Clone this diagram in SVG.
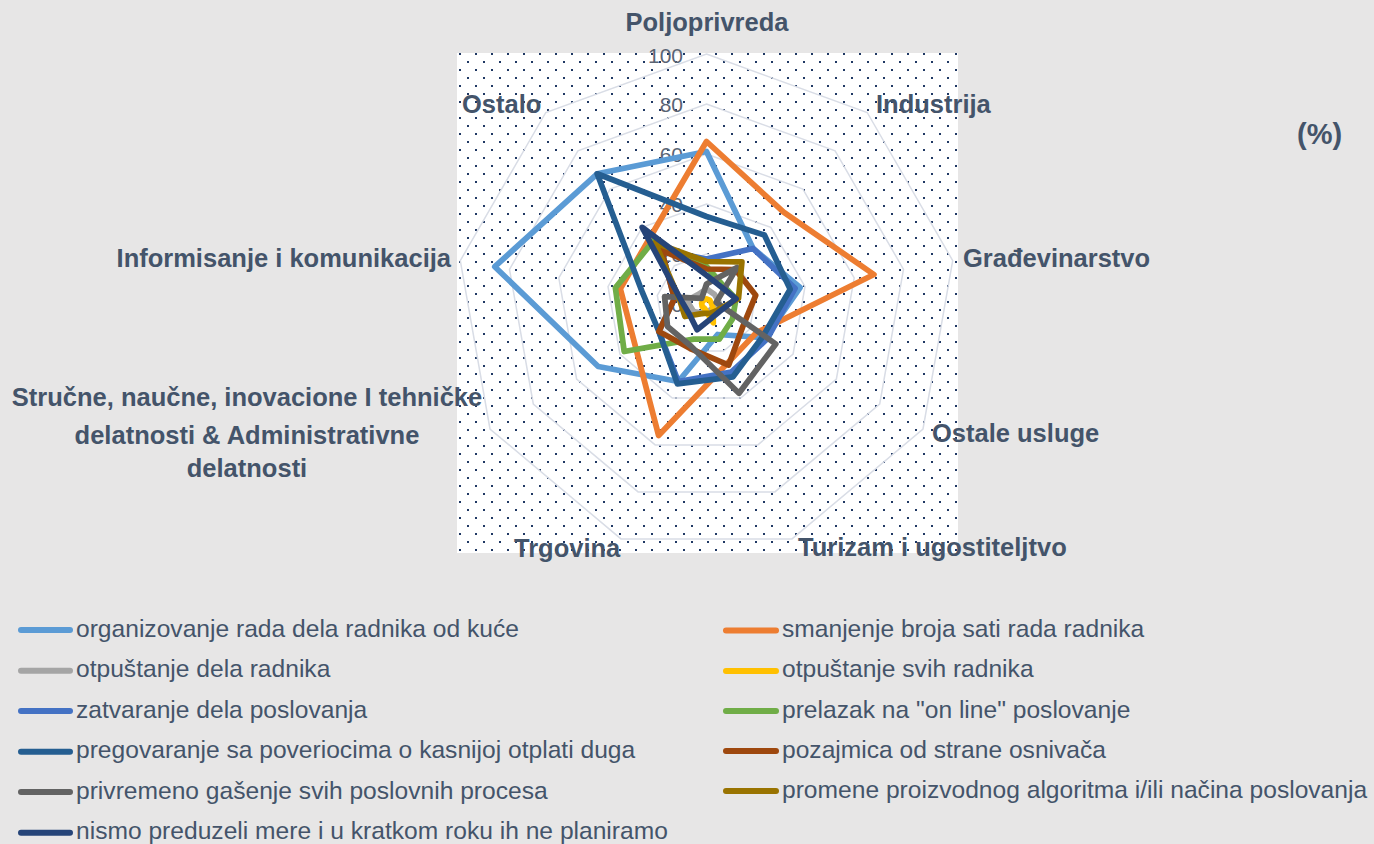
<svg xmlns="http://www.w3.org/2000/svg" width="1374" height="844" viewBox="0 0 1374 844">
<defs>
<pattern id="dots" patternUnits="userSpaceOnUse" x="0" y="0" width="16" height="16">
<rect x="11" y="5" width="2" height="2" fill="#1f3864"/>
<rect x="3" y="13" width="2" height="2" fill="#1f3864"/>
</pattern>
<style>
.grid{fill:none;stroke:#d9dde6;stroke-width:1.5}
.val{font-family:"Liberation Sans",Arial,sans-serif;font-size:21px;fill:#5a6474;text-anchor:end}
.cat{font-family:"Liberation Sans",Arial,sans-serif;font-size:25.5px;font-weight:bold;fill:#44546a}
.ser{fill:none;stroke-width:5.75;stroke-linejoin:round}
.leg{font-family:"Liberation Sans",Arial,sans-serif;font-size:24.6px;fill:#44546a}
.lk{stroke-width:6;stroke-linecap:round}
</style>
</defs>
<rect x="0" y="0" width="1374" height="844" fill="#e7e6e6"/>
<g id="plot-area">
<rect x="457" y="53" width="501" height="500" fill="#ffffff"/>
<rect x="457" y="53" width="501" height="500" fill="url(#dots)"/>
</g>
<g id="gridlines">
<polygon class="grid" points="706.5,54 867.2,112.5 952.7,260.6 923,429 792,538.9 621,538.9 490,429 460.3,260.6 545.8,112.5"/>
<polygon class="grid" points="706.5,104 835.1,150.8 903.5,269.3 879.7,404 774.9,491.9 638.1,491.9 533.3,404 509.5,269.3 577.9,150.8"/>
<polygon class="grid" points="706.5,154 802.9,189.1 854.2,278 836.4,379 757.8,444.9 655.2,444.9 576.6,379 558.8,278 610.1,189.1"/>
<polygon class="grid" points="706.5,204 770.8,227.4 805,286.6 793.1,354 740.7,398 672.3,398 619.9,354 608,286.6 642.2,227.4"/>
<polygon class="grid" points="706.5,254 738.6,265.7 755.7,295.3 749.8,329 723.6,351 689.4,351 663.2,329 657.3,295.3 674.4,265.7"/>
</g>
<g id="value-axis">
<text class="val" x="683" y="62.5">100</text>
<text class="val" x="683" y="112">80</text>
<text class="val" x="683" y="162">60</text>
<text class="val" x="683" y="212">40</text>
<text class="val" x="683" y="262">20</text>
<text class="val" x="683" y="312">0</text>
</g>
<g id="series">
<polygon id="s-organizovanje" class="ser" stroke="#5b9bd5" points="706.5,151.5 753.1,248.5 800.1,287.5 765,337.8 717.6,334.5 678.3,381.5 598.2,366.5 494.8,266.7 597.2,173.8"/>
<polygon id="s-smanjenje" class="ser" stroke="#ed7d31" points="706.5,141.5 783.6,212.1 873.9,274.5 756.3,332.8 727.9,362.7 658.6,435.5 635.1,345.3 620.3,288.8 650.3,237"/>
<polygon id="s-otpustanje-dela" class="ser" stroke="#a5a5a5" points="706.5,289 714.5,294.4 718.8,301.8 713,307.8 709.1,311 703.1,313.4 693.5,311.5 686.8,300.5 698.5,294.4"/>
<polygon id="s-otpustanje-svih" class="ser" stroke="#ffc000" points="706.5,299 709.7,300.2 711.4,303.1 713,307.8 713.3,322.8 704.8,308.7 702.2,306.5 701.6,303.1 703.3,300.2"/>
<polygon id="s-zatvaranje" class="ser" stroke="#4472c4" points="706.5,259 753.1,248.5 795.1,288.4 767.1,339 731.3,372.1 678.3,381.5 658.9,331.5 674.5,298.4 661.5,250.4"/>
<polygon id="s-prelazak" class="ser" stroke="#70ad47" points="706.5,266.5 722.6,284.9 736,298.8 732.5,319 719.3,339.2 693.7,339.2 624.2,351.5 615.4,287.9 653.5,240.8"/>
<polygon id="s-pregovaranje" class="ser" stroke="#255e91" points="706.5,216.5 764.4,235.1 790.2,289.2 762.8,336.5 733,376.8 677.4,383.9 658.9,331.5 642.5,292.7 597.2,173.8"/>
<polygon id="s-pozajmica" class="ser" stroke="#9e480e" points="706.5,269 735.4,269.5 755.7,295.3 743.3,325.3 728.7,365.1 690.3,348.6 658.9,331.5 674.5,298.4 661.5,250.4"/>
<polygon id="s-privremeno" class="ser" stroke="#636363" points="706.5,284 737,267.6 716.3,302.3 775.8,344 739,393.3 691.1,346.3 667.5,326.5 664.6,296.6 701.7,298.3"/>
<polygon id="s-promene" class="ser" stroke="#997300" points="706.5,261.5 741.9,261.9 738.5,298.4 717.3,310.3 709.9,313.4 703.1,313.4 684.9,316.5 679.4,299.2 655.1,242.7"/>
<polygon id="s-nismo" class="ser" stroke="#264478" points="706.5,275.3 721,286.8 736,298.8 719.5,311.5 711.6,318.1 697.1,329.8 689.2,314 680.6,299.4 642.2,227.4"/>
</g>
<g id="category-labels">
<text class="cat" x="707" y="31" text-anchor="middle">Poljoprivreda</text>
<text class="cat" x="876" y="113">Industrija</text>
<text class="cat" x="963" y="267">Građevinarstvo</text>
<text class="cat" x="932" y="442">Ostale usluge</text>
<text class="cat" x="798" y="556">Turizam i ugostiteljtvo</text>
<text class="cat" x="514" y="557">Trgovina</text>
<text class="cat" x="247" y="406" text-anchor="middle">Stručne, naučne, inovacione I tehničke</text>
<text class="cat" x="247" y="444" text-anchor="middle">delatnosti &amp; Administrativne</text>
<text class="cat" x="247" y="477" text-anchor="middle">delatnosti</text>
<text class="cat" x="451" y="267" text-anchor="end">Informisanje i komunikacija</text>
<text class="cat" x="462" y="113">Ostalo</text>
<text class="cat" x="1297" y="143.5" style="font-size:29px">(%)</text>
</g>
<g id="legend">
<g id="leg-organizovanje"><line class="lk" x1="21" y1="630" x2="70" y2="630" stroke="#5b9bd5"/><text class="leg" x="76" y="636.5">organizovanje rada dela radnika od kuće</text></g>
<g id="leg-smanjenje"><line class="lk" x1="726" y1="630.5" x2="776" y2="630.5" stroke="#ed7d31"/><text class="leg" x="782" y="637">smanjenje broja sati rada radnika</text></g>
<g id="leg-otpustanje-dela"><line class="lk" x1="21" y1="670.7" x2="70" y2="670.7" stroke="#a5a5a5"/><text class="leg" x="76" y="677">otpuštanje dela radnika</text></g>
<g id="leg-otpustanje-svih"><line class="lk" x1="726" y1="671" x2="776" y2="671" stroke="#ffc000"/><text class="leg" x="782" y="677.3">otpuštanje svih radnika</text></g>
<g id="leg-zatvaranje"><line class="lk" x1="21" y1="711" x2="70" y2="711" stroke="#4472c4"/><text class="leg" x="76" y="717.5">zatvaranje dela poslovanja</text></g>
<g id="leg-prelazak"><line class="lk" x1="726" y1="711" x2="776" y2="711" stroke="#70ad47"/><text class="leg" x="782" y="717.5">prelazak na "on line" poslovanje</text></g>
<g id="leg-pregovaranje"><line class="lk" x1="21" y1="751.7" x2="70" y2="751.7" stroke="#255e91"/><text class="leg" x="76" y="758">pregovaranje sa poveriocima o kasnijoj otplati duga</text></g>
<g id="leg-pozajmica"><line class="lk" x1="726" y1="751" x2="776" y2="751" stroke="#9e480e"/><text class="leg" x="782" y="757.5">pozajmica od strane osnivača</text></g>
<g id="leg-privremeno"><line class="lk" x1="21" y1="792" x2="70" y2="792" stroke="#636363"/><text class="leg" x="76" y="798.5">privremeno gašenje svih poslovnih procesa</text></g>
<g id="leg-promene"><line class="lk" x1="726" y1="791" x2="776" y2="791" stroke="#997300"/><text class="leg" x="782" y="797.5">promene proizvodnog algoritma i/ili načina poslovanja</text></g>
<g id="leg-nismo"><line class="lk" x1="21" y1="832.7" x2="70" y2="832.7" stroke="#264478"/><text class="leg" x="76" y="839">nismo preduzeli mere i u kratkom roku ih ne planiramo</text></g>
</g>
</svg>
